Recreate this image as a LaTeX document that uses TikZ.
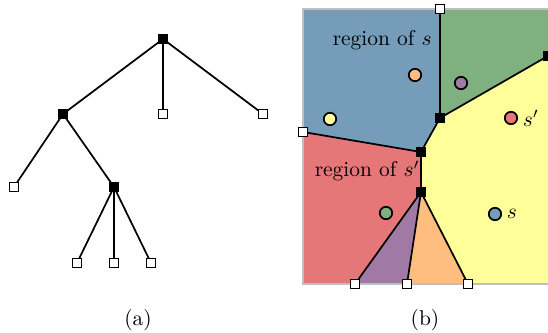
\documentclass[tikz,border=0pt]{standalone}
\usetikzlibrary{positioning, backgrounds}
\definecolor{regblue}{RGB}{117,157,185}
\definecolor{reggreen}{RGB}{127,176,127}
\definecolor{regyellow}{RGB}{255,255,153}
\definecolor{regred}{RGB}{229,119,121}
\definecolor{regpurple}{RGB}{160,122,165}
\definecolor{regorange}{RGB}{255,190,127}

\begin{document}
\begin{tikzpicture}[
    x=0.0164cm, y=-0.0164cm,
    inner/.style={draw, fill=black, minimum size=4pt, inner sep=0pt},
    leaf/.style={draw, fill=white, minimum size=4pt, inner sep=0pt, line width=0.5pt},
    site/.style={circle, draw, line width=0.8pt, minimum size=5.8pt, inner sep=0pt},
    edge/.style={line width=0.8pt},
]
\useasboundingbox (0,0) rectangle (548,333);

% (a) the tree
\node[inner] (r) at (163,39) {};
\node[inner] (u) at (63,114) {};
\node[leaf] (l1) at (163,114) {};
\node[leaf] (l2) at (263,114) {};
\node[leaf] (l3) at (14,187) {};
\node[inner] (w) at (114,187) {};
\node[leaf] (l4) at (77,263) {};
\node[leaf] (l5) at (114,263) {};
\node[leaf] (l6) at (151,263) {};

\foreach \a/\b in {r/u, r/l1, r/l2, u/l3, u/w, w/l4, w/l5, w/l6} {
    \draw[edge] (\a) -- (\b);
}

\node (capa) at (138,320) {(a)};

% (b) the subdivision
\node[leaf] (top) at (440,9) {};
\node[inner] (p) at (440,118) {};
\node[inner] (q) at (548,56) {};
\node[leaf] (lft) at (303,132) {};
\node[inner] (m) at (421,152) {};
\node[inner] (n) at (421,192) {};
\node[leaf] (b1) at (355,284) {};
\node[leaf] (b2) at (407,284) {};
\node[leaf] (b3) at (468,284) {};

\begin{pgfonlayer}{background}
\fill[regblue] (303,9) -- (top.center) -- (p.center) -- (m.center) -- (lft.center) -- cycle;
\fill[reggreen] (top.center) -- (548.5,9) -- (q.center) -- (p.center) -- cycle;
\fill[regyellow] (q.center) -- (548.5,284) -- (b3.center) -- (n.center) -- (m.center) -- (p.center) -- cycle;
\fill[regred] (lft.center) -- (m.center) -- (n.center) -- (b1.center) -- (303,284) -- cycle;
\fill[regpurple] (n.center) -- (b1.center) -- (b2.center) -- cycle;
\fill[regorange] (n.center) -- (b2.center) -- (b3.center) -- cycle;
\draw[black!25, line width=0.6pt] (303,9) rectangle (549,284);
\end{pgfonlayer}

\foreach \a/\b in {top/p, p/q, p/m, lft/m, m/n, n/b1, n/b2, n/b3} {
    \draw[edge] (\a) -- (\b);
}

% sites
\node[site, fill=regorange] (so) at (415,75) {};
\node[site, fill=regpurple] (sp) at (461,83) {};
\node[site, fill=regyellow] (sy) at (330,119) {};
\node[site, fill=regred, label={[inner sep=2pt]right:$s'$}] (sr) at (511,118) {};
\node[site, fill=reggreen] (sg) at (386,213) {};
\node[site, fill=regblue, label={[inner sep=2pt]right:$s$}] (sb) at (495,214) {};

\node[anchor=base east, inner sep=0pt] (rs) at (432,46) {region of $s$};
\node[anchor=base east, inner sep=0pt] (rt) at (420,177) {region of $s'$};

\node (capb) at (425,320) {(b)};

\end{tikzpicture}
\end{document}
